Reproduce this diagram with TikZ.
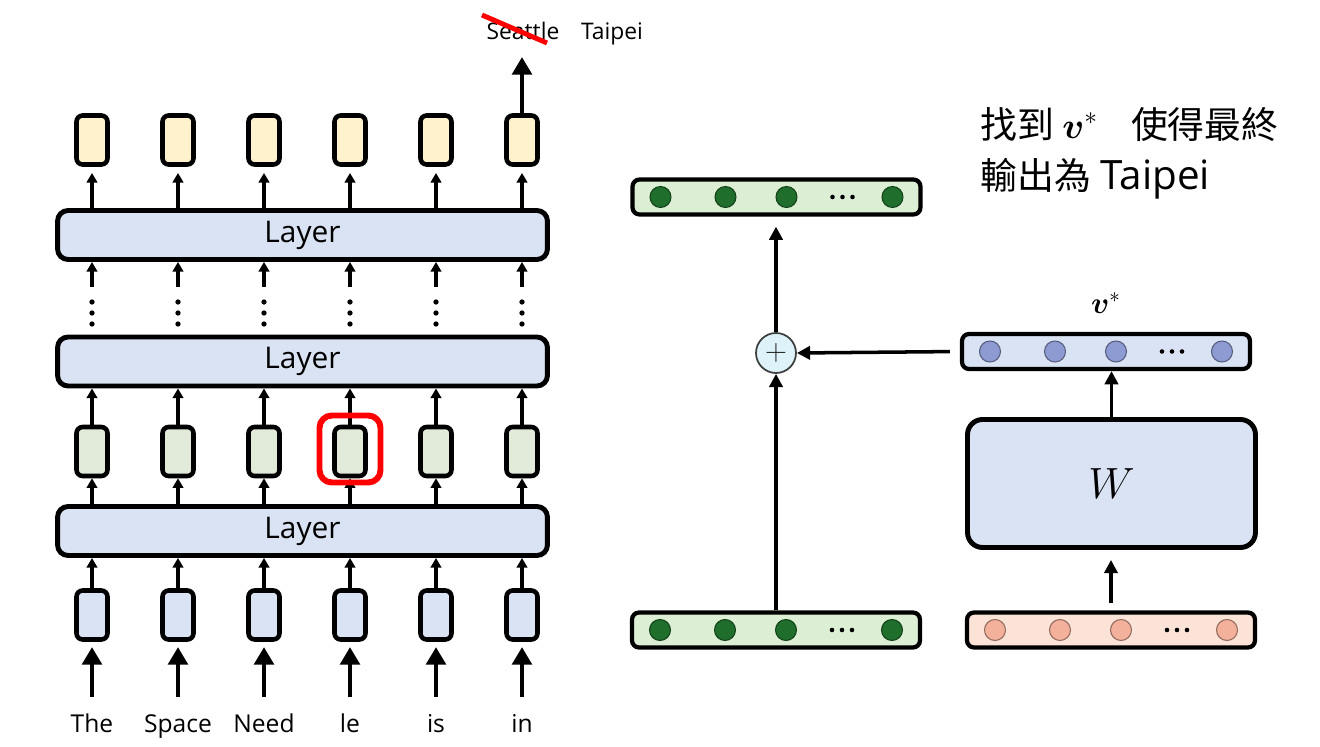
\documentclass[tikz,border=0pt]{standalone}
\usepackage{fontspec}
\usepackage{amsmath}
\setmainfont{Open Sans}
\newfontfamily\cjk{Noto Sans CJK TC}
\usetikzlibrary{arrows.meta, calc}

\definecolor{layerblue}{HTML}{DAE3F3}
\definecolor{tokyellow}{HTML}{FFF2CC}
\definecolor{hidgreen}{HTML}{E2EBD9}
\definecolor{vecgreen}{HTML}{DCEFD5}
\definecolor{dotgreen}{HTML}{1F6E2C}
\definecolor{vecorange}{HTML}{FBE4D7}
\definecolor{dotorange}{HTML}{F3B09B}
\definecolor{dotblue}{HTML}{8E9AD2}
\definecolor{pluscyan}{HTML}{DDF2F9}

\tikzset{
  tok/.style={draw=black, line width=2.6pt, rounded corners=3.5pt, minimum width=0.62cm, minimum height=0.98cm, inner sep=0pt},
  layer/.style={draw=black, line width=2.8pt, rounded corners=6pt, fill=layerblue, minimum width=9.8cm, minimum height=0.98cm, font=\fontsize{17}{20}\selectfont},
  vec/.style={draw=black, line width=2.4pt, rounded corners=4pt, minimum width=5.76cm, minimum height=0.7cm, inner sep=0pt},
  unit/.style={circle, fill=#1, draw=#1!60!black, line width=0.6pt, minimum size=0.42cm, inner sep=0pt},
  small arrow/.style={line width=2pt, -{Triangle[length=5.5pt, width=6pt]}},
  big arrow/.style={line width=2.8pt, -{Triangle[length=10pt, width=11pt]}},
  side arrow/.style={line width=2pt, -{Triangle[length=7.5pt, width=7.5pt]}},
}

\begin{document}
\begin{tikzpicture}[x=0.02cm, y=-0.02cm]
  \useasboundingbox (0, 0) rectangle (1320, 747);
  % layer stack
  \node[layer] (layA) at (302.5, 531) {Layer};
  \node[layer] (layB) at (302.5, 361.5) {Layer};
  \node[layer] (layC) at (302.5, 235) {Layer};
  \foreach \word [count=\i] in {The, Space, Need, le, is, in} {
    \pgfmathsetmacro\colx{92 + 86*(\i-1)}
    \node[tok, fill=layerblue] (in\i) at (\colx, 615) {};
    \node[tok, fill=hidgreen] (hid\i) at (\colx, 451.5) {};
    \node[tok, fill=tokyellow] (out\i) at (\colx, 140) {};
    \node[anchor=base, font=\fontsize{14}{16}\selectfont] (word\i) at (\colx, 732) {\word};
    \coordinate (tail\i) at (\colx, 697);
    \coordinate (gap\i) at (\colx, 287);
    \draw[big arrow, shorten >=3pt] (tail\i) -- (in\i.south);
    \draw[small arrow] (in\i.north) -- (in\i.north |- layA.south);
    \draw[small arrow] (hid\i.south |- layA.north) -- (hid\i.south);
    \draw[small arrow] (hid\i.north) -- (hid\i.north |- layB.south);
    \draw[small arrow] (gap\i) -- (gap\i |- layC.south);
    \draw[small arrow, shorten >=3.5pt] (out\i.south |- layC.north) -- (out\i.south);
    \foreach \dy in {302, 313, 324}
      \fill (\colx, \dy) circle (1.5pt);
  }
  % the picked token
  \node[draw=red, line width=3.4pt, rounded corners=7pt, minimum width=1.22cm, minimum height=1.34cm] (pick) at (350, 449) {};
  % final output
  \node[anchor=base, font=\fontsize{13}{15}\selectfont] (seattle) at (523, 39) {Seattle};
  \node[anchor=base, font=\fontsize{13}{15}\selectfont] (taipei) at (612, 39) {Taipei};
  \coordinate (outtip) at (522, 57);
  \draw[big arrow] (out6.north) -- (outtip);
  \draw[red, line width=2.8pt] (482, 15) -- (547, 43);
  % steering vector
  \node[vec, fill=vecgreen] (hTop) at (776.5, 197) {};
  \node[vec, fill=vecgreen] (hBot) at (776, 630) {};
  \node[vec, fill=vecorange] (xIn) at (1111, 630) {};
  \node[vec, fill=layerblue] (vStar) at (1106, 351.5) {};
  \foreach \vecname/\col in {hTop/dotgreen, hBot/dotgreen, xIn/dotorange, vStar/dotblue} {
    \foreach \dx [count=\k] in {-116, -51, 10, 116}
      \node[unit=\col] (\vecname u\k) at ($(\vecname)+(\dx, 0)$) {};
    \foreach \dx in {56, 66, 76}
      \fill ($(\vecname)+(\dx, 0)$) circle (1.3pt);
  }
  \node[draw=black, line width=2.8pt, rounded corners=0.3cm, fill=layerblue, minimum width=5.76cm, minimum height=2.56cm, font=\fontsize{24}{28}\selectfont] (proj) at (1111.5, 483.5) {$W$};
  \node[circle, draw=black!75, line width=1pt, fill=pluscyan, minimum size=0.8cm, inner sep=0pt, text=black!85, font=\fontsize{18}{20}\selectfont] (plus) at (776, 353) {$+$};
  \node[font=\fontsize{17}{20}\selectfont] (vlabel) at (1106, 303) {$\boldsymbol{v}^*$};
  \draw[side arrow] (hBot.north) -- (plus.south);
  \draw[side arrow, shorten >=0.2cm] (plus.north) -- (plus.north |- hTop.south);
  \draw[side arrow, shorten <=0.2cm] (vStar.west) -- (plus.east);
  \draw[side arrow] (proj.north) -- (proj.north |- vStar.south);
  \draw[side arrow, shorten <=0.14cm, shorten >=0.2cm] (xIn.north) -- (xIn.north |- proj.south);
  % goal
  \node[anchor=base west, font=\fontsize{21}{25}\selectfont] (goalA) at (974, 138) {\cjk 找到 $\boldsymbol{v}^*$\hspace{0.9em}使得最終};
  \node[anchor=base west, font=\fontsize{21}{25}\selectfont] (goalB) at (974, 189) {{\cjk 輸出為} {\fontsize{23}{25}\selectfont Taipei}};
\end{tikzpicture}
\end{document}
